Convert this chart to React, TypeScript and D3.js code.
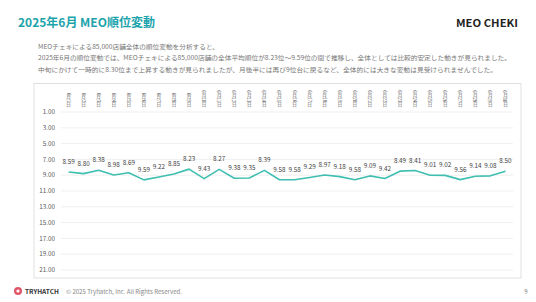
import React, { useRef, useEffect } from 'react';
import * as d3 from 'd3';

const days = d3.range(1, 31).map(d => `6月${d}日`);
const ranks = [8.59, 8.80, 8.38, 8.98, 8.69, 9.59, 9.22, 8.85, 8.23, 9.43, 8.27, 9.38, 9.35, 8.39, 9.58,
  9.58, 9.29, 8.97, 9.18, 9.58, 9.09, 9.42, 8.49, 8.41, 9.01, 9.02, 9.56, 9.14, 9.08, 8.50];
const yTicks = [1, 3, 5, 7, 9, 11, 13, 15, 17, 19, 21];
const bodyLines = [
  'MEOチェキによる85,000店舗全体の順位変動を分析すると、',
  '2025年6月の順位変動では、MEOチェキによる85,000店舗の全体平均順位が8.23位～9.59位の間で推移し、全体としては比較的安定した動きが見られました。',
  '中旬にかけて一時的に8.30位まで上昇する動きが見られましたが、月後半には再び9位台に戻るなど、全体的には大きな変動は見受けられませんでした。',
];
const bodyWidths = [181, 473, 459];

const FONT = '"Noto Sans CJK JP", "Noto Sans", sans-serif';

const App = () => {
  const svgRef = useRef<SVGSVGElement>(null);

  useEffect(() => {
    const width = 536;
    const height = 302;
    const svg = d3.select(svgRef.current).attr('width', width).attr('height', height);
    svg.selectAll('*').remove();
    svg.attr('font-family', FONT);

    svg.append('rect').attr('width', width).attr('height', height).attr('fill', '#fff');

    // heading
    svg.append('text')
      .attr('x', 18).attr('y', 27)
      .attr('font-size', 12).attr('font-weight', 'bold')
      .attr('fill', '#1ba3ac')
      .text('2025年6月 MEO順位変動');

    svg.append('text')
      .attr('x', 456).attr('y', 27)
      .attr('font-size', 10.5).attr('font-weight', 'bold')
      .attr('fill', '#222')
      .attr('textLength', 62).attr('lengthAdjust', 'spacingAndGlyphs')
      .text('MEO CHEKI');

    svg.append('g')
      .selectAll('text')
      .data(bodyLines)
      .join('text')
      .attr('x', 38)
      .attr('y', (d, i) => 48.5 + i * 11.5)
      .attr('font-size', 6.2)
      .attr('fill', '#777')
      .attr('textLength', (d, i) => bodyWidths[i])
      .attr('lengthAdjust', 'spacingAndGlyphs')
      .text(d => d);

    // chart frame
    svg.append('rect')
      .attr('x', 34).attr('y', 83.5)
      .attr('width', 487).attr('height', 194.5)
      .attr('fill', 'none').attr('stroke', '#d9d9d9').attr('stroke-width', 0.8);

    const x = d3.scaleBand().domain(days).range([61, 513]);
    const y = d3.scaleLinear().domain([1, 21]).range([112, 270]);

    const grid = svg.append('g');
    grid.selectAll('line')
      .data(yTicks)
      .join('line')
      .attr('x1', 61).attr('x2', 513)
      .attr('y1', d => y(d)).attr('y2', d => y(d))
      .attr('stroke', '#ebebeb').attr('stroke-width', 0.8);

    grid.selectAll('text')
      .data(yTicks)
      .join('text')
      .attr('x', 55)
      .attr('y', d => y(d))
      .attr('dy', '0.35em')
      .attr('text-anchor', 'end')
      .attr('font-size', 6.3)
      .attr('fill', '#595959')
      .text(d => d.toFixed(2));

    svg.append('g')
      .selectAll('text')
      .data(days)
      .join('text')
      .attr('x', d => x(d)! + x.bandwidth() / 2)
      .attr('y', 107)
      .attr('text-anchor', 'end')
      .attr('font-size', 4.6)
      .attr('fill', '#595959')
      .style('writing-mode', 'vertical-rl')
      .text(d => d);

    const line = d3.line<number>()
      .x((d, i) => x(days[i])! + x.bandwidth() / 2)
      .y(d => y(d));

    svg.append('path')
      .datum(ranks)
      .attr('d', line)
      .attr('fill', 'none')
      .attr('stroke', '#3fbfb1')
      .attr('stroke-width', 1.6)
      .attr('stroke-linejoin', 'round');

    svg.append('g')
      .selectAll('text')
      .data(ranks)
      .join('text')
      .attr('x', (d, i) => x(days[i])! + x.bandwidth() / 2)
      .attr('y', d => y(d) - 8)
      .attr('text-anchor', 'middle')
      .attr('font-size', 6.3)
      .attr('fill', '#404040')
      .text(d => d.toFixed(2));

    // footer
    svg.append('circle').attr('cx', 18).attr('cy', 291).attr('r', 4).attr('fill', '#e0566b');
    svg.append('circle').attr('cx', 18).attr('cy', 291).attr('r', 1.6).attr('fill', '#fff');
    svg.append('text')
      .attr('x', 25).attr('y', 293.5)
      .attr('font-size', 6.5).attr('font-weight', 'bold')
      .attr('fill', '#333')
      .text('TRYHATCH');
    svg.append('text')
      .attr('x', 66).attr('y', 293.5)
      .attr('font-size', 5.8)
      .attr('fill', '#888')
      .attr('textLength', 116).attr('lengthAdjust', 'spacingAndGlyphs')
      .text('© 2025 Tryhatch, Inc. All Rights Reserved.');
    svg.append('text')
      .attr('x', 526).attr('y', 293.5)
      .attr('text-anchor', 'middle')
      .attr('font-size', 6)
      .attr('fill', '#777')
      .text('9');
  }, []);

  return (
    <div style={{ position: 'fixed', left: 0, top: 0 }}>
      <svg ref={svgRef} style={{ display: 'block' }}></svg>
    </div>
  );
};

export default App;
